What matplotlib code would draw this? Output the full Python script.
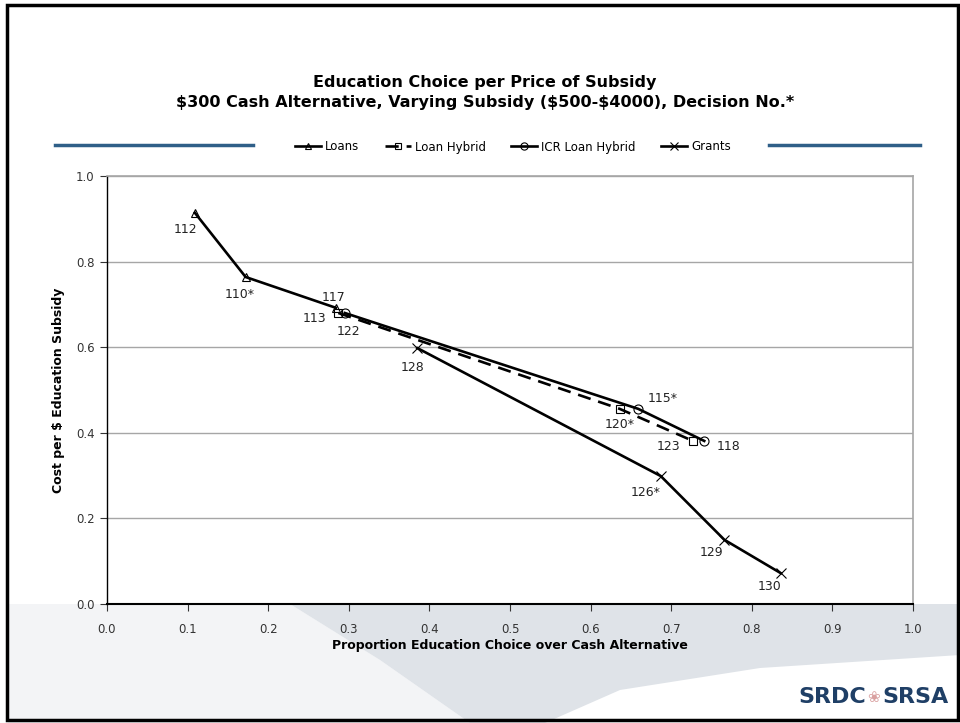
import matplotlib
matplotlib.use("Agg")
import matplotlib.pyplot as plt
from matplotlib.lines import Line2D
from matplotlib.patches import Polygon, Rectangle

# Données
loans_x = [0.109, 0.172, 0.284]
loans_y = [0.914, 0.764, 0.692]
loans_lbl = ["112", "110*", "117"]

hybrid_x = [0.287, 0.636, 0.727]
hybrid_y = [0.680, 0.456, 0.381]
hybrid_lbl = ["113", "120*", "123"]

icr_x = [0.295, 0.659, 0.741]
icr_y = [0.680, 0.456, 0.381]
icr_lbl = ["122", "115*", "118"]

grants_x = [0.385, 0.687, 0.766, 0.836]
grants_y = [0.598, 0.299, 0.150, 0.072]
grants_lbl = ["128", "126*", "129", "130"]

# décalage des étiquettes (pixels)
loans_off = [(-9, -17), (-6, -17), (-2, 10)]
hybrid_off = [(-24, -6), (0, -16), (-24, -6)]
icr_off = [(4, -19), (25, 10), (24, -6)]
grants_off = [(-5, -19), (-15, -16), (-13, -13), (-11, -13)]

W, H = 960, 723
fig = plt.figure(figsize=(9.6, 7.23), dpi=100)
fig.patch.set_facecolor("white")

def fx(px):
    return px / W

def fy(py):
    return 1 - py / H

# fond gris (gabarit de diapo)
light = Polygon([(fx(8), fy(604)), (fx(290), fy(604)), (fx(380), fy(660)),
                 (fx(470), fy(723)), (fx(8), fy(723))],
                closed=True, transform=fig.transFigure, facecolor="#f3f4f6",
                edgecolor="none", zorder=-2)
fig.patches.append(light)
swoosh = Polygon([(fx(290), fy(604)), (fx(960), fy(604)), (fx(960), fy(655)),
                  (fx(760), fy(668)), (fx(620), fy(690)), (fx(545), fy(723)),
                  (fx(470), fy(723)), (fx(380), fy(660))],
                 closed=True, transform=fig.transFigure, facecolor="#dfe3e8",
                 edgecolor="none", zorder=-1)
fig.patches.append(swoosh)

# cadre noir
fig.patches.append(Rectangle((fx(7), fy(720)), fx(951), 1 - 5 / H - 3 / H,
                             transform=fig.transFigure, fill=False,
                             edgecolor="black", linewidth=2.5, zorder=10))

# lignes bleues
for x0, x1 in [(55, 253), (769, 920)]:
    fig.add_artist(Line2D([fx(x0), fx(x1)], [fy(145), fy(145)],
                          transform=fig.transFigure, color="#2f5f88", linewidth=2.5))

ax = fig.add_axes([fx(107), fy(604), fx(806), 428 / H])
ax.set_zorder(1)
ax.set_facecolor("white")

ax.plot(loans_x, loans_y, color="black", lw=1.9, marker="^", ms=6,
        mfc="none", mew=0.8, label="Loans")
ax.plot(hybrid_x, hybrid_y, color="black", lw=1.9, ls=(0, (5, 3)), marker="s", ms=6,
        mfc="none", mew=0.8, label="Loan Hybrid")
ax.plot(icr_x, icr_y, color="black", lw=1.9, marker="o", ms=6.5,
        mfc="none", mew=0.8, label="ICR Loan Hybrid")
ax.plot(grants_x, grants_y, color="black", lw=1.9, marker="x", ms=7,
        mew=0.8, label="Grants")

for xs, ys, lbls, offs in [(loans_x, loans_y, loans_lbl, loans_off),
                           (hybrid_x, hybrid_y, hybrid_lbl, hybrid_off),
                           (icr_x, icr_y, icr_lbl, icr_off),
                           (grants_x, grants_y, grants_lbl, grants_off)]:
    for x, y, t, o in zip(xs, ys, lbls, offs):
        ax.annotate(t, (x, y), xytext=o, textcoords="offset pixels",
                    ha="center", va="center", fontsize=9, color="#222222")

ax.set_xlim(0, 1)
ax.set_ylim(0, 1)
ax.set_xticks([i / 10 for i in range(11)])
ax.set_yticks([i / 5 for i in range(6)])
ax.xaxis.set_major_formatter(plt.FormatStrFormatter("%.1f"))
ax.yaxis.set_major_formatter(plt.FormatStrFormatter("%.1f"))
ax.tick_params(labelsize=8.5, length=5, width=0.8, colors="#333333", pad=4)
ax.tick_params(axis="x", pad=9)
ax.grid(True, axis="y", color="#a6a6a6", linewidth=1)
for s in ["top", "right"]:
    ax.spines[s].set_color("#a6a6a6")
    ax.spines[s].set_linewidth(1.2)
ax.spines["left"].set_color("black")
ax.spines["left"].set_linewidth(1)
ax.spines["bottom"].set_color("black")
ax.spines["bottom"].set_linewidth(1.5)

ax.set_xlabel("Proportion Education Choice over Cash Alternative", fontsize=9,
              fontweight="bold", labelpad=2)
ax.set_ylabel("Cost per $ Education Subsidy", fontsize=9, fontweight="bold", labelpad=8)

fig.text(fx(485), fy(82), "Education Choice per Price of Subsidy", ha="center",
         va="center", fontsize=11.5, fontweight="bold")
fig.text(fx(485), fy(102), "$300 Cash Alternative, Varying Subsidy ($500-$4000), Decision No.*",
         ha="center", va="center", fontsize=11.5, fontweight="bold")

handles, labels = ax.get_legend_handles_labels()
fig.legend(handles, labels, loc="center", bbox_to_anchor=(fx(513), fy(147)),
           ncol=4, frameon=False, handlelength=2.2, markerscale=0.8,
           columnspacing=2.2, handletextpad=0.3,
           prop={"family": ["Liberation Sans Narrow", "DejaVu Sans"], "size": 8.5})

# logo
fig.text(fx(866), fy(697), "SRDC", ha="right", va="center", fontsize=16,
         fontweight="bold", color="#1f3f66", family="Liberation Sans Narrow")
fig.text(fx(874), fy(697), "\u2740", ha="center", va="center", fontsize=11,
         color="#d9a0a0")
fig.text(fx(882), fy(697), "SRSA", ha="left", va="center", fontsize=16,
         fontweight="bold", color="#1f3f66", family="Liberation Sans Narrow")

fig.savefig("out.png", dpi=100)
